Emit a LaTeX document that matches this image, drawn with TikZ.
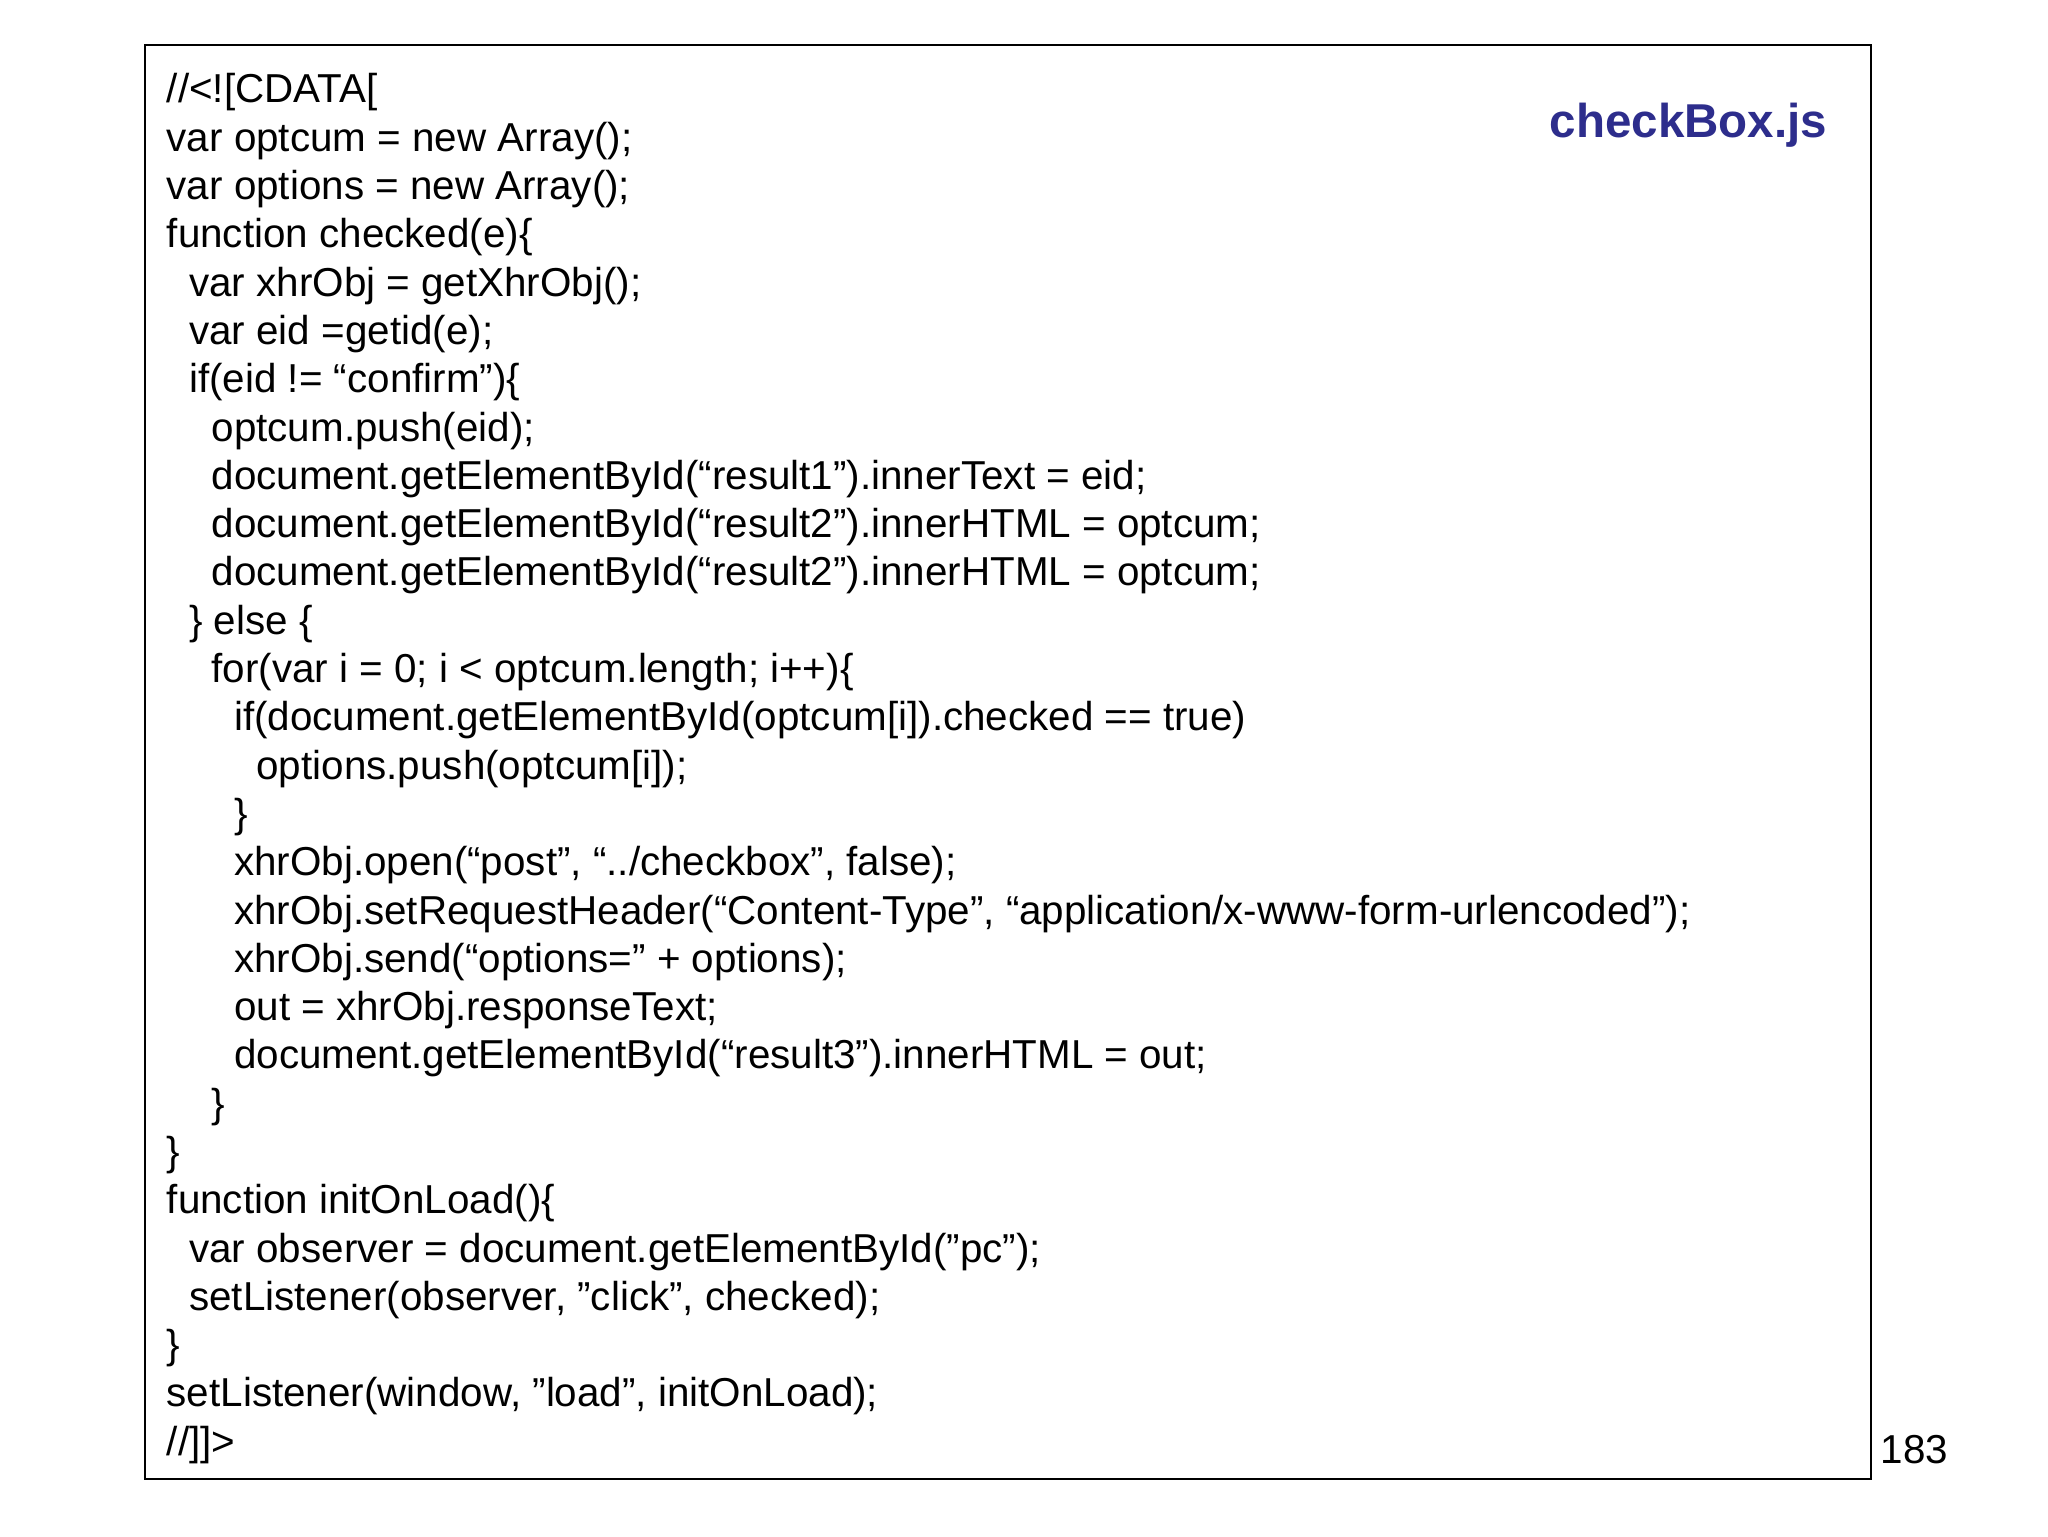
\documentclass[tikz,border=0pt]{standalone}
\usepackage{fontspec}
\setmainfont{Liberation Sans}
\definecolor{titleblue}{RGB}{45,45,140}
\begin{document}
\begin{tikzpicture}[x=0.5pt,y=-0.5pt,
  code/.style={anchor=base west,inner sep=0pt,font=\fontsize{15.3pt}{18pt}\selectfont}]
\useasboundingbox (0,0) rectangle (1552,1164);
\draw[line width=0.8pt] (110,34) rectangle (1418,1121);
\node[anchor=base east,inner sep=0pt,text=titleblue,font=\fontsize{18pt}{20pt}\selectfont\bfseries] (title) at (1385,104) {checkBox.js};
\node[code] (pg) at (1425,1109) {183};
\foreach \ind/\txt [count=\i from 0] in {
 0/{//<![CDATA[},
 0/{var optcum = new Array();},
 0/{var options = new Array();},
 0/{function checked(e)\{},
 1/{var xhrObj = getXhrObj();},
 1/{var eid =getid(e);},
 1/{if(eid != “confirm”)\{},
 2/{optcum.push(eid);},
 2/{document.getElementById(“result1”).innerText = eid;},
 2/{document.getElementById(“result2”).innerHTML = optcum;},
 2/{document.getElementById(“result2”).innerHTML = optcum;},
 1/{\} else \{},
 2/{for(var i = 0; i < optcum.length; i++)\{},
 3/{if(document.getElementById(optcum[i]).checked == true)},
 4/{options.push(optcum[i]);},
 3/{\}},
 3/{xhrObj.open(“post”, “../checkbox”, false);},
 3/{xhrObj.setRequestHeader(“Content-Type”, “application/x-www-form-urlencoded”);},
 3/{xhrObj.send(“options=” + options);},
 3/{out = xhrObj.responseText;},
 3/{document.getElementById(“result3”).innerHTML = out;},
 2/{\}},
 0/{\}},
 0/{function initOnLoad()\{},
 1/{var observer = document.getElementById("pc");},
 1/{setListener(observer, "click", checked);},
 0/{\}},
 0/{setListener(window, "load", initOnLoad);},
 0/{//]]>}}
{\node[code] (l\i) at ({126+17*\ind},{78+36.6*\i}) {\txt};}
\end{tikzpicture}
\end{document}
